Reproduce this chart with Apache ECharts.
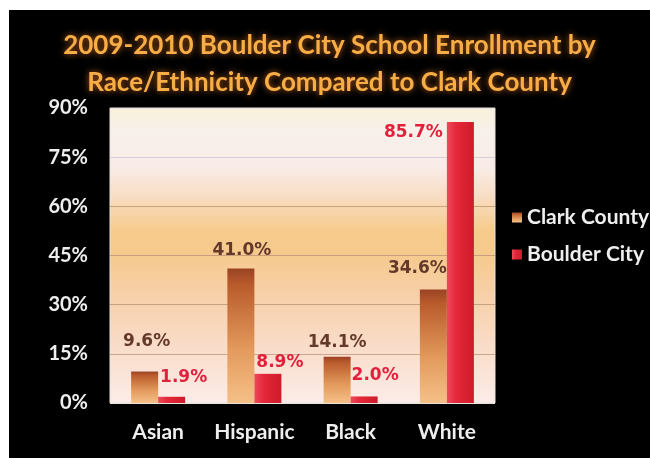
<!DOCTYPE html>
<html>
<head>
<meta charset="utf-8">
<script src="https://cdn.jsdelivr.net/npm/echarts@6/dist/echarts.min.js"></script>
<style>
  html, body { margin: 0; padding: 0; background: #ffffff; }
  #chart { position: absolute; left: 9px; top: 10px; width: 641px; height: 448px; }
</style>
</head>
<body>
<div id="chart"></div>
<script>
// Enrollment shares (%) by race/ethnicity, 2009-2010
const categories = ['Asian', 'Hispanic', 'Black', 'White'];
const clarkCounty = [9.6, 41.0, 14.1, 34.6];
const boulderCity = [1.9, 8.9, 2.0, 85.7];
const yTicks = [0, 15, 30, 45, 60, 75, 90];

// Per-bar label nudges [dx, dy] so labels sit clear of the neighbouring bar
const clarkLabelShift = [[2, -16], [1, -5], [0, -1], [-16, -8]];
const boulderLabelShift = [[12, -6], [12, 2], [11, -7], [-47, 24]];

const FONT = 'Lato, "Open Sans", sans-serif';
const LABEL_FONT = '"DejaVu Sans", Verdana, sans-serif';
const G = echarts.graphic.LinearGradient;

const clarkFill = new G(0, 0, 0, 1, [
  { offset: 0, color: '#9a4224' },
  { offset: 0.12, color: '#b95b2c' },
  { offset: 0.6, color: '#e39a5c' },
  { offset: 1, color: '#f5c088' }
]);
const boulderFill = new G(0, 0, 1, 0, [
  { offset: 0, color: '#ee4a5a' },
  { offset: 0.35, color: '#e3283a' },
  { offset: 1, color: '#cf1a2a' }
]);
const plotFill = new G(0, 0, 0, 1, [
  { offset: 0, color: '#f8f1da' },
  { offset: 0.08, color: '#f8f0ea' },
  { offset: 0.2, color: '#f9ece8' },
  { offset: 0.3, color: '#f8ddc4' },
  { offset: 0.42, color: '#f6cb8a' },
  { offset: 0.5, color: '#f6ca8e' },
  { offset: 0.62, color: '#f7cfa6' },
  { offset: 0.8, color: '#f9dcc8' },
  { offset: 1, color: '#fcece8' }
]);

function labelled(values, shifts) {
  return values.map((v, i) => ({
    value: v,
    label: { offset: shifts[i] }
  }));
}

const chart = echarts.init(document.getElementById('chart'));
chart.setOption({
  backgroundColor: '#000000',
  animation: false,
  title: {
    text: '2009-2010 Boulder City School Enrollment by\nRace/Ethnicity Compared to Clark County',
    left: 'center',
    top: 12,
    textStyle: {
      fontFamily: FONT,
      fontWeight: 'bold',
      fontSize: 26,
      lineHeight: 37,
      color: '#f8ae46',
      textShadowColor: 'rgba(235,120,30,0.8)',
      textShadowBlur: 6
    }
  },
  legend: {
    orient: 'vertical',
    left: 498,
    top: 192,
    itemGap: 16,
    itemWidth: 10,
    itemHeight: 10,
    icon: 'rect',
    textStyle: { color: '#eeeeee', fontFamily: FONT, fontWeight: 'bold', fontSize: 21 },
    data: ['Clark County', 'Boulder City']
  },
  grid: {
    left: 101, top: 98, right: 155, bottom: 55,
    show: true,
    backgroundColor: plotFill,
    borderColor: '#e8e2dc',
    borderWidth: 1
  },
  xAxis: {
    type: 'category',
    data: categories,
    axisLine: { show: false },
    axisTick: { show: false },
    axisLabel: { interval: 0, color: '#eeeeee', fontFamily: FONT, fontWeight: 'bold', fontSize: 21, margin: 19 }
  },
  yAxis: {
    type: 'value',
    min: yTicks[0],
    max: yTicks[yTicks.length - 1],
    interval: 15,
    axisLine: { show: false },
    axisTick: { show: false },
    axisLabel: {
      color: '#eeeeee', fontFamily: FONT, fontWeight: 'bold', fontSize: 20, margin: 22,
      formatter: v => v + '%'
    },
    splitLine: {
      lineStyle: {
        width: 1,
        color: ['#e8e2dc', '#c9a68c', '#c9a080', '#c99e7c', '#caa478', '#d6d0da', '#e8e2dc']
      }
    }
  },
  series: [
    {
      name: 'Clark County',
      type: 'bar',
      barWidth: 27,
      barGap: '0%',
      itemStyle: { color: clarkFill },
      label: {
        show: true, position: 'top',
        color: '#64392a', fontFamily: LABEL_FONT, fontWeight: 'bold', fontSize: 17,
        formatter: p => p.value.toFixed(1) + '%'
      },
      data: labelled(clarkCounty, clarkLabelShift)
    },
    {
      name: 'Boulder City',
      type: 'bar',
      barWidth: 27,
      barGap: '0%',
      itemStyle: { color: boulderFill },
      label: {
        show: true, position: 'top',
        color: '#e2203c', fontFamily: LABEL_FONT, fontWeight: 'bold', fontSize: 17,
        formatter: p => p.value.toFixed(1) + '%'
      },
      data: labelled(boulderCity, boulderLabelShift)
    }
  ]
});
</script>
</body>
</html>
